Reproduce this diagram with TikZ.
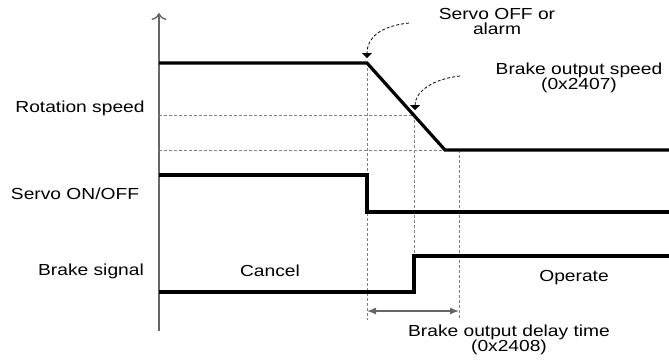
\documentclass[tikz,border=0pt]{standalone}
\usepackage{fontspec}
\setmainfont{Liberation Sans}[FakeStretch=1.2]
\usepackage{tikz}
\usetikzlibrary{arrows.meta, positioning, calc}
\definecolor{axgray}{HTML}{666666}
\definecolor{guidegray}{HTML}{808080}

\begin{document}
\begin{tikzpicture}[
  x=1pt, y=-1pt,
  lbl/.style={inner sep=0pt, font=\fontsize{16}{15}\selectfont, align=center},
  signal/.style={line width=3.2pt, line join=miter},
  axisline/.style={axgray, line width=1.4pt, -{To[length=7pt, width=15pt]}},
  guide/.style={guidegray, line width=0.8pt, dash pattern=on 3pt off 2pt},
  callout/.style={black, line width=0.8pt, dash pattern=on 3pt off 2pt,
    -{Triangle[length=5pt, width=10pt]}},
  span/.style={axgray, line width=1.2pt, {Latex[length=9pt, width=7pt]}-{Latex[length=9pt, width=7pt]}},
]
  \useasboundingbox (0,0) rectangle (669,360);

  % axis
  \coordinate (axb) at (159,331);
  \coordinate (axt) at (159,13);
  \draw[axisline] (axb) -- (axt);

  % signal labels
  \node[lbl] (rot) at (80,108) {Rotation speed};
  \node[lbl] (son) at (75,194) {Servo ON/OFF};
  \node[lbl] (brk) at (91,271) {Brake signal};
  \node[lbl] (cancel) at (270,271) {Cancel};
  \node[lbl] (operate) at (574,278) {Operate};

  % key instants
  \coordinate (r0) at (159,63);
  \coordinate (r1) at (367,63);
  \coordinate (r2) at (445,150);
  \coordinate (r3) at (669,150);
  \coordinate (bs) at (414,115);

  % guides
  \draw[guide] (159,115) -- (bs);
  \draw[guide] (159,150) -- (r2);
  \draw[guide] (r1) -- (367,320);
  \draw[guide] (bs) -- (414,256);
  \draw[guide] (459,150) -- (459,320);

  % waveforms
  \draw[signal] (r0) -- (r1) -- (r2) -- (r3);
  \draw[signal] (159,175) -- (367,175) -- (367,212) -- (669,212);
  \draw[signal] (159,292) -- (414,292) -- (414,256) -- (669,256);

  % delay time
  \coordinate (d0) at (367,311);
  \coordinate (d1) at (459,311);
  \draw[span] (d0) -- (d1);
  \node[lbl] (delay) at (509,340) {Brake output delay time\\(0x2408)};

  % callouts
  \node[lbl] (off) at (497,21) {Servo OFF or\\alarm};
  \coordinate (c1) at (409,23);
  \draw[callout] (c1) .. controls (380,26) and (367,38) .. ($(r1)+(0,-5)$);
  \node[lbl] (bspd) at (579,78) {Brake output speed\\(0x2407)};
  \coordinate (c2) at (460,76);
  \draw[callout] (c2) .. controls (432,79) and (415,92) .. ($(bs)+(1,-5)$);
\end{tikzpicture}
\end{document}
